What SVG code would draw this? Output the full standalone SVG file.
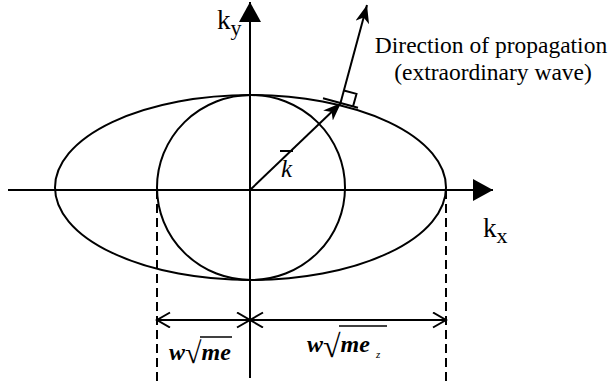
<svg xmlns="http://www.w3.org/2000/svg" width="613" height="381" viewBox="0 0 613 381">
<style>
.ln{stroke:#000;stroke-width:2;fill:none}
.dash{stroke:#000;stroke-width:2;fill:none;stroke-dasharray:9 5}
.vin{stroke:#000;stroke-width:1.5}
.t{font-family:'Liberation Serif',serif;fill:#000}
.bi{font-family:'Liberation Serif',serif;font-weight:bold;font-style:italic;font-size:24px;fill:#000}
.rad{font-weight:normal;font-style:normal}
</style>
<defs>
<marker id="fillHead" markerUnits="userSpaceOnUse" markerWidth="24" markerHeight="24" refX="20" refY="11" orient="auto">
<path d="M0,0 L20,11 L0,22 Z" fill="#000"/>
</marker>
<marker id="stealth" markerUnits="userSpaceOnUse" markerWidth="22" markerHeight="16" refX="18" refY="7" orient="auto">
<path d="M0,0 L18,7 L0,14 L5,7 Z" fill="#000"/>
</marker>
<marker id="openHead" markerUnits="userSpaceOnUse" markerWidth="16" markerHeight="18" refX="14" refY="8" orient="auto">
<path d="M1,0.5 L14,8 L1,15.5" fill="none" stroke="#000" stroke-width="2"/>
</marker>
</defs>

<g id="axes">
<line class="ln" x1="8" y1="190" x2="493" y2="190" marker-end="url(#fillHead)"/>
<line class="ln" x1="250" y1="378" x2="250" y2="2" marker-end="url(#fillHead)"/>
<text class="t" x="217" y="29" font-size="27">k<tspan font-size="22" dy="6">y</tspan></text>
<text class="t" x="483" y="237" font-size="27">k<tspan font-size="22" dy="6">x</tspan></text>
</g>

<g id="ellipse">
<ellipse class="ln" cx="250.5" cy="187.5" rx="195.5" ry="92.5"/>
</g>

<g id="circle">
<ellipse class="ln" cx="251" cy="187.5" rx="94" ry="92.5"/>
</g>

<g id="connectors">
<line class="dash" x1="157" y1="190" x2="157" y2="381"/>
<line class="dash" x1="446" y1="190" x2="446" y2="381"/>
<line class="ln" x1="250" y1="320" x2="157" y2="320" marker-end="url(#openHead)"/>
<line class="ln" x1="157" y1="320" x2="250" y2="320" marker-end="url(#openHead)"/>
<line class="ln" x1="446" y1="320" x2="250" y2="320" marker-end="url(#openHead)"/>
<line class="ln" x1="250" y1="320" x2="446" y2="320" marker-end="url(#openHead)"/>
<line class="ln" x1="250" y1="190" x2="341" y2="103" marker-end="url(#stealth)"/>
<line class="ln" x1="340.5" y1="103" x2="367" y2="5" marker-end="url(#stealth)"/>
<line class="ln" x1="323" y1="98.3" x2="358" y2="107.7"/>
<polyline class="ln" points="343.9,90.5 356.5,93.9 353,106.4"/>
</g>

<g id="k-label">
<text class="t" x="281" y="177" font-size="25" font-style="italic">k</text>
<line class="ln" x1="280" y1="151" x2="293" y2="151"/>
</g>

<g id="propagation-label">
<text class="t" font-size="23.5" text-anchor="middle" x="491" y="53">Direction of propagation</text>
<text class="t" font-size="23.5" text-anchor="middle" x="493" y="80">(extraordinary wave)</text>
</g>

<g id="dim-left">
<text class="bi" x="169" y="360">w<tspan class="rad" font-size="30" dy="3">√</tspan><tspan dy="-3">me</tspan></text>
<line class="vin" x1="200" y1="337" x2="232" y2="337"/>
</g>

<g id="dim-right">
<text class="bi" x="307" y="352">w<tspan class="rad" font-size="32" dy="5">√</tspan><tspan dy="-5">me</tspan><tspan font-weight="normal" font-size="11" dx="6" dy="6">z</tspan></text>
<line class="vin" x1="339" y1="326" x2="387" y2="326"/>
</g>
</svg>
